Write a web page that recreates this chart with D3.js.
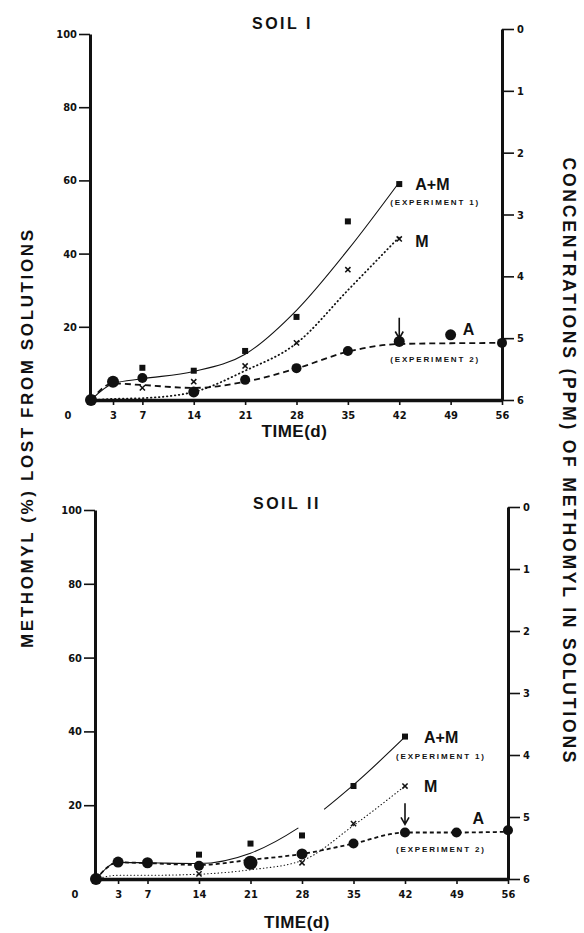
<!DOCTYPE html>
<html><head><meta charset="utf-8">
<script src="https://cdn.jsdelivr.net/npm/d3@7"></script>
<style>
body{margin:0;background:#fff}
svg{display:block}
.tk text{font-family:'DejaVu Sans Condensed','Liberation Sans Narrow','Arial Narrow',sans-serif;font-weight:bold;font-size:11px;fill:#111}
.lbl{font-family:'Liberation Sans','Arial',sans-serif;font-weight:bold;fill:#111}
</style></head><body>
<script>
// ---- data ----
const xTickDays = [3,7,14,21,28,35,42,49,56];
const pctTicks = [20,40,60,80,100];
const ppmTicks = [0,1,2,3,4,5,6];

// Soil I
const s1AMDays = [0,7,14,21,28,35,42];
const s1AMPct  = [0,8.8,8.0,13.4,22.7,48.8,59.0];
const s1MDays  = [7,14,21,28,35,42];
const s1MPct   = [3.3,5.0,9.3,15.6,35.6,44.0];
const s1ADays  = [0,3,7,14,21,28,35,42,49,56];
const s1APct   = [0,5.0,6.0,2.2,5.5,8.7,13.4,16.0,17.8,15.6];
const s1FitDays = [0,3,7,14,21,28,35,42];
const s1AMFit  = [0,4.5,5.8,7.8,12.5,24.5,41.0,59.5];
const s1MFit   = [0,0.3,0.5,2.2,8.0,15.5,30.0,44.5];
const s1AFitDays = [0,3,7,14,21,28,35,42,49,56];
const s1AFit   = [0,4.5,4.1,3.3,5.0,8.6,13.2,15.3,15.5,15.6];

// Soil II
const s2AMDays = [14,21,28,35,42];
const s2AMPct  = [6.6,9.6,11.8,25.2,38.6];
const s2MDays  = [14,28,35,42];
const s2MPct   = [1.4,4.4,15.0,25.2];
const s2ADays  = [0,3,7,14,21,28,35,42,49,56];
const s2APct   = [0,4.6,4.4,3.6,4.4,6.8,9.6,12.6,12.6,13.2];
const s2FitDays = [0,3,7,14,21,28,35,42];
const s2AMFit  = [0,4.5,4.4,4.2,7.0,14.5,25.5,38.5];
const s2MFit   = [0,1.0,1.0,1.3,2.5,5.0,14.5,25.2];
const s2AFitDays = [0,3,7,14,21,28,35,42,49,56];
const s2AFit   = [0,4.5,4.3,3.8,5.2,6.8,9.6,12.6,12.6,12.8];
const s2AMGap  = [27.5,31];   // days where the printed A+M curve is broken

const arrowDay = 42;
const s1Arrow = [22.5,16.8];
const s2Arrow = [20.5,14.8];

const W=584,H=933;
const svg=d3.select("body").append("svg").attr("width",W).attr("height",H);

function lengthAtX(node,px){
  const L=node.getTotalLength();let lo=0,hi=L;
  for(let k=0;k<40;k++){const m=(lo+hi)/2;if(node.getPointAtLength(m).x<px)lo=m;else hi=m;}
  return lo;
}

function panel(o){
  const x=d3.scaleLinear().domain([0,56]).range([o.x0,o.x1]);
  const y=d3.scaleLinear().domain([0,100]).range([o.yb,o.yt]);
  const y2=d3.scaleLinear().domain([0,6]).range([o.y2t,o.yb]);
  const g=svg.append("g");

  g.append("text").attr("class","lbl").attr("x",o.titleX).attr("y",o.titleY)
   .attr("font-size",16).attr("letter-spacing",2.5).text(o.title);

  const la=g.append("g").attr("class","tk").attr("transform",`translate(${o.x0-1},0)`)
    .call(d3.axisLeft(y).tickValues(pctTicks).tickSize(11).tickSizeOuter(0).tickPadding(2));
  la.select(".domain").attr("stroke","#111").attr("stroke-width",3);
  la.selectAll(".tick line").attr("stroke","#111").attr("stroke-width",1.6);
  const ra=g.append("g").attr("class","tk").attr("transform",`translate(${o.x1},0)`)
    .call(d3.axisRight(y2).tickValues(ppmTicks).tickFormat(d3.format("d")).tickSize(12).tickSizeOuter(0).tickPadding(3));
  ra.select(".domain").attr("stroke","#111").attr("stroke-width",3);
  ra.selectAll(".tick line").attr("stroke","#111").attr("stroke-width",1.6);
  const ba=g.append("g").attr("class","tk").attr("transform",`translate(0,${o.yb})`)
    .call(d3.axisBottom(x).tickValues(xTickDays).tickSize(5).tickSizeOuter(0).tickPadding(6));
  ba.select(".domain").attr("stroke","#111").attr("stroke-width",3.5);
  ba.selectAll(".tick line").attr("stroke","#111").attr("stroke-width",1.6);
  g.append("text").attr("x",o.zeroX).attr("y",o.yb+19)
   .attr("text-anchor","middle").style("font-family","'DejaVu Sans Condensed','Liberation Sans Narrow',sans-serif")
   .style("font-weight","bold").style("font-size","11px").attr("fill","#111").text("0");
  g.append("text").attr("class","lbl").attr("x",(o.x0+o.x1)/2+o.timeDx).attr("y",o.timeY)
   .attr("text-anchor","middle").attr("font-size",17).attr("letter-spacing",0.5).text("TIME(d)");

  const line=(ds,vs)=>d3.line().curve(d3.curveMonotoneX).x((d,i)=>x(ds[i])).y(d=>y(d))(vs);
  const am=g.append("path").attr("d",line(o.fitDays,o.amFit)).attr("fill","none").attr("stroke","#111")
   .attr("stroke-width",1.1);
  if(o.amGap){
    const n=am.node(),L=n.getTotalLength();
    const a=lengthAtX(n,x(o.amGap[0])),b=lengthAtX(n,x(o.amGap[1]));
    am.attr("stroke-dasharray",`${a},${b-a},${L}`);
  }
  g.append("path").attr("d",line(o.fitDays,o.mFit)).attr("fill","none").attr("stroke","#111")
   .attr("stroke-width",o.mW).attr("stroke-linecap","round").attr("stroke-dasharray",o.mDash);
  g.append("path").attr("d",line(o.aFitDays,o.aFit)).attr("fill","none").attr("stroke","#111")
   .attr("stroke-width",1.8).attr("stroke-dasharray",o.aDash);

  g.selectAll(null).data(o.aPct).enter().append("circle")
   .attr("cx",(d,i)=>x(o.aDays[i])).attr("cy",d=>y(d)).attr("r",(d,i)=>o.aR[i]).attr("fill","#111");
  g.selectAll(null).data(o.amPct).enter().append("rect")
   .attr("x",(d,i)=>x(o.amDays[i])-3).attr("y",d=>y(d)-3).attr("width",6).attr("height",6).attr("fill","#111");
  const xs=2.6;
  g.selectAll(null).data(o.mPct).enter().append("path")
   .attr("d",(d,i)=>{const cx=x(o.mDays[i]),cy=y(d);return `M${cx-xs},${cy-xs}L${cx+xs},${cy+xs}M${cx-xs},${cy+xs}L${cx+xs},${cy-xs}`;})
   .attr("stroke","#111").attr("stroke-width",1.5);

  const ax=x(arrowDay);
  g.append("path").attr("d",`M${ax},${y(o.arrow[0])}L${ax},${y(o.arrow[1])}M${ax-4},${y(o.arrow[1])-7}L${ax},${y(o.arrow[1])}L${ax+4},${y(o.arrow[1])-7}`)
   .attr("fill","none").attr("stroke","#111").attr("stroke-width",1.6);

  const big=(t,dx,v,dy)=>g.append("text").attr("class","lbl").attr("x",x(42)+dx).attr("y",y(v)+dy).attr("font-size",16).text(t);
  const small=(t,dx,v,dy)=>g.append("text").attr("class","lbl").attr("x",x(42)+dx).attr("y",y(v)+dy)
     .attr("font-size",8).attr("textLength",88).attr("lengthAdjust","spacing").text(t);
  big("A+M",o.lab.amDx,o.lab.amV,6);
  small("(EXPERIMENT 1)",-9,o.lab.e1V,3);
  big("M",o.lab.amDx,o.lab.mV,6);
  g.append("text").attr("class","lbl").attr("x",x(49)+o.lab.aDx).attr("y",y(o.lab.aV)+6).attr("font-size",16).text("A");
  small("(EXPERIMENT 2)",-9,o.lab.e2V,3);
}

panel({x0:91,x1:502,yb:400,yt:34,y2t:29,title:"SOIL I",titleX:252,titleY:29,zeroX:68,timeY:437,timeDx:-2,
  fitDays:s1FitDays,amFit:s1AMFit,mFit:s1MFit,aFitDays:s1AFitDays,aFit:s1AFit,
  amDays:s1AMDays,amPct:s1AMPct,mDays:s1MDays,mPct:s1MPct,aDays:s1ADays,aPct:s1APct,
  aR:[6,6,5,5.5,5,5,5,5.5,5.5,5],mDash:"0.5,3.5",mW:1.8,aDash:"6,4",arrow:s1Arrow,
  lab:{amDx:16,amV:59,e1V:54,mV:43.5,aDx:12,aV:19.5,e2V:11.3}});

panel({x0:96,x1:508,yb:879,yt:510,y2t:507,title:"SOIL II",titleX:253,titleY:509,zeroX:75,timeY:928,timeDx:-5,
  fitDays:s2FitDays,amFit:s2AMFit,mFit:s2MFit,aFitDays:s2AFitDays,aFit:s2AFit,amGap:s2AMGap,
  amDays:s2AMDays,amPct:s2AMPct,mDays:s2MDays,mPct:s2MPct,aDays:s2ADays,aPct:s2APct,
  aR:[6,5.5,5.5,5,7,5.5,5,5,5,5],mDash:"0.5,3",mW:1.1,aDash:"4,3",arrow:s2Arrow,
  lab:{amDx:19,amV:38.6,e1V:33.2,mV:25.2,aDx:16,aV:16.4,e2V:8.2}});

svg.append("text").attr("class","lbl").attr("transform","translate(33,439) rotate(-90)")
  .attr("text-anchor","middle").attr("font-size",17).attr("textLength",418).attr("lengthAdjust","spacing")
  .text("METHOMYL (%) LOST FROM SOLUTIONS");
svg.append("text").attr("class","lbl").attr("transform","translate(563,460) rotate(90)")
  .attr("text-anchor","middle").attr("font-size",17.5).attr("textLength",605).attr("lengthAdjust","spacing")
  .text("CONCENTRATIONS (PPM) OF METHOMYL IN SOLUTIONS");
</script>
</body></html>
